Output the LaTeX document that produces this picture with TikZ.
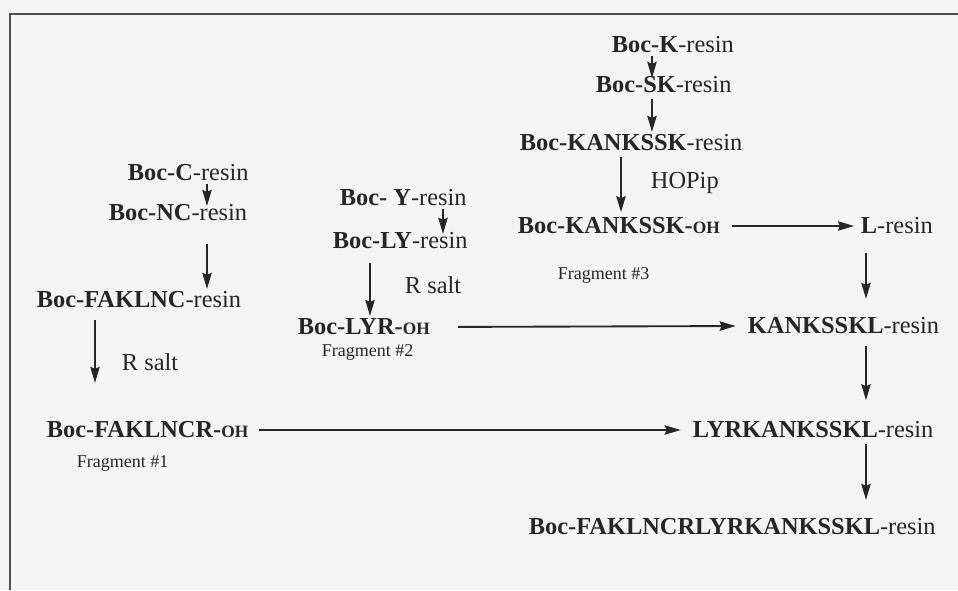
\documentclass[tikz,border=0pt]{standalone}
\usepackage{fontspec}
\setmainfont{Liberation Serif}
\usetikzlibrary{arrows.meta}
\definecolor{paper}{HTML}{F4F4F4}
\definecolor{ink}{HTML}{262626}
\definecolor{frame}{HTML}{505050}
\newcommand{\ohend}{{\fontsize{13}{15}\selectfont\bfseries OH}}
\begin{document}
\begin{tikzpicture}[x=0.75pt,y=-0.75pt,
    every node/.style={text=ink,inner sep=2pt,anchor=west},
    pep/.style={font=\fontsize{18.3}{22}\selectfont},
    frag/.style={font=\fontsize{13.5}{16}\selectfont},
    rxn/.style={draw=ink,line width=1.4pt,-{Stealth[length=12pt,width=7pt,inset=1.5pt]}}]
    \useasboundingbox (0,0) rectangle (958,590);
    \fill[paper] (0,0) rectangle (958,590);
    \draw[frame,line width=2pt] (958,14) -- (10,14) -- (10,590);

    % fragment #3 and the resin
    \node[pep] (KR)    at (609,45)  {\textbf{Boc-K}-resin};
    \node[pep] (SKR)   at (593,85)  {\textbf{Boc-SK}-resin};
    \node[pep] (KSKR)  at (517,143) {\textbf{Boc-KANKSSK}-resin};
    \node[pep] (hop)   at (648,183) {HOPip};
    \node[pep] (KSKOH) at (515,226) {\textbf{Boc-KANKSSK-}\ohend};
    \node[frag] (frag3) at (555,275) {Fragment \#3};
    \node[pep] (LR)    at (858,226) {\textbf{L}-resin};
    \node[pep] (KLR)   at (745,326) {\textbf{KANKSSKL}-resin};
    \node[pep] (LYRKR) at (690,430) {\textbf{LYRKANKSSKL}-resin};
    \node[pep] (fin)   at (526,527) {\textbf{Boc-FAKLNCRLYRKANKSSKL}-resin};

    % fragment #2
    \node[pep] (YR)    at (337,198) {\textbf{Boc- Y}-resin};
    \node[pep] (LYR)   at (330,241) {\textbf{Boc-LY}-resin};
    \node[pep] (salt2) at (402,285) {R salt};
    \node[pep] (LYROH) at (295,327) {\textbf{Boc-LYR-}\ohend};
    \node[frag] (frag2) at (319,352) {Fragment \#2};

    % fragment #1
    \node[pep] (CR)    at (125,173) {\textbf{Boc-C}-resin};
    \node[pep] (NCR)   at (106,213) {\textbf{Boc-NC}-resin};
    \node[pep] (FNCR)  at (34,300)  {\textbf{Boc-FAKLNC}-resin};
    \node[pep] (salt1) at (119,362) {R salt};
    \node[pep] (FROH)  at (44,430)  {\textbf{Boc-FAKLNCR-}\ohend};
    \node[frag] (frag1) at (74,463) {Fragment \#1};

    \coordinate (cK)  at (652,0);
    \coordinate (cKS) at (621,0);
    \coordinate (cL)  at (866,0);
    \coordinate (cY)  at (443,0);
    \coordinate (cLY) at (370,0);
    \coordinate (cC)  at (207,0);
    \coordinate (cF)  at (95,0);

    \draw[rxn, shorten >= -3pt] (KR.south -| cK) -- (SKR.north -| cK);
    \draw[rxn, shorten <= 2pt] (SKR.south -| cK) -- (KSKR.north -| cK);
    \draw[rxn, shorten <= 2pt, shorten >= 2pt] (KSKR.south -| cKS) -- (KSKOH.north -| cKS);
    \draw[rxn, shorten <= 7pt, shorten >= 3pt] (KSKOH.east) -- (LR.west);
    \draw[rxn, shorten <= 12pt, shorten >= 12pt] (LR.south -| cL) -- (KLR.north -| cL);
    \draw[rxn, shorten <= 19pt, shorten >= 7pt] (LYROH.east) -- (KLR.west);
    \draw[rxn, shorten <= 7pt, shorten >= 14pt] (KLR.south -| cL) -- (LYRKR.north -| cL);
    \draw[rxn, shorten <= 6pt, shorten >= 7pt] (FROH.east) -- (LYRKR.west);
    \draw[rxn, shorten <= 2pt, shorten >= 12pt] (LYRKR.south -| cL) -- (fin.north -| cL);

    \draw[rxn, shorten >= -3pt] (YR.south -| cY) -- (LYR.north -| cY);
    \draw[rxn, shorten <= 8pt] (LYR.south -| cLY) -- (LYROH.north -| cLY);

    \draw[rxn, shorten >= -3pt] (CR.south -| cC) -- (NCR.north -| cC);
    \draw[rxn, shorten <= 15pt] (NCR.south -| cC) -- (FNCR.north -| cC);
    \draw[rxn, shorten <= 7pt, shorten >= 27pt] (FNCR.south -| cF) -- (FROH.north -| cF);
\end{tikzpicture}
\end{document}
